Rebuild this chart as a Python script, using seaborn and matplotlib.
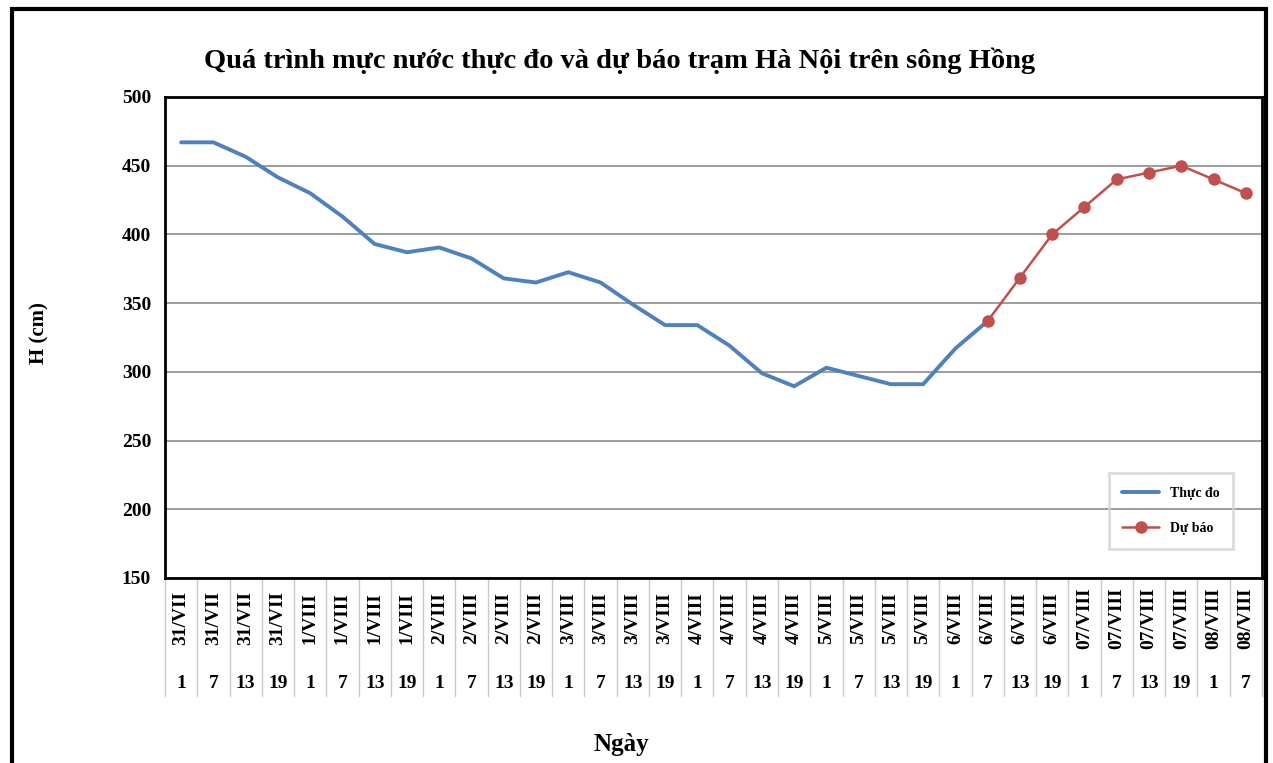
import matplotlib
matplotlib.use("Agg")
import matplotlib.pyplot as plt
import matplotlib.transforms as mtransforms
from matplotlib.patches import Rectangle
import seaborn as sns
import pandas as pd

# Category axis (two levels: day / hour)
day_labels = ["31/VII", "31/VII", "31/VII", "31/VII",
              "1/VIII", "1/VIII", "1/VIII", "1/VIII",
              "2/VIII", "2/VIII", "2/VIII", "2/VIII",
              "3/VIII", "3/VIII", "3/VIII", "3/VIII",
              "4/VIII", "4/VIII", "4/VIII", "4/VIII",
              "5/VIII", "5/VIII", "5/VIII", "5/VIII",
              "6/VIII", "6/VIII", "6/VIII", "6/VIII",
              "07/VIII", "07/VIII", "07/VIII", "07/VIII",
              "08/VIII", "08/VIII"]
hour_labels = ["1", "7", "13", "19", "1", "7", "13", "19",
               "1", "7", "13", "19", "1", "7", "13", "19",
               "1", "7", "13", "19", "1", "7", "13", "19",
               "1", "7", "13", "19", "1", "7", "13", "19",
               "1", "7"]

# Water level (cm)
observed = [467, 467, 456.5, 441.5, 430, 413, 393, 387, 390.5, 382.5,
            368, 365, 372.5, 365, 349, 334, 334, 319, 299, 289.5,
            303, 297, 291, 291, 317, 337]
forecast = [337, 368.5, 400, 420, 440, 445, 450, 440, 430]
forecast_start = 25

obs_df = pd.DataFrame({"x": range(len(observed)), "H": observed})
fc_df = pd.DataFrame({"x": range(forecast_start, forecast_start + len(forecast)), "H": forecast})

sns.set_style("white")
plt.rcParams["font.family"] = ["Liberation Serif", "DejaVu Serif"]
plt.rcParams["font.weight"] = "bold"
plt.rcParams["text.color"] = "black"
plt.rcParams["ytick.color"] = "black"

fig = plt.figure(figsize=(12.73, 7.63), dpi=100)
ax = fig.add_axes([0.1296, 0.2425, 0.8617, 0.6304])

ax.yaxis.grid(True, color="#8c8c8c", linewidth=1.2)
ax.set_axisbelow(True)

sns.lineplot(data=obs_df, x="x", y="H", ax=ax, color="#4F81BD", linewidth=2.8,
             label="Thực đo")
sns.lineplot(data=fc_df, x="x", y="H", ax=ax, color="#C0504D", linewidth=1.8,
             marker="o", markersize=9, markeredgewidth=0, label="Dự báo")

n = len(day_labels)
ax.set_xlim(-0.5, n - 0.5)
ax.set_ylim(150, 500)
ax.set_yticks(range(150, 501, 50))
ax.set_xticks([])
ax.set_xlabel("")
ax.set_ylabel("")
ax.tick_params(axis="y", labelsize=14, pad=10, length=0, labelcolor="black")
for lab in ax.get_yticklabels():
    lab.set_fontweight("bold")

for s in ax.spines.values():
    s.set_color("black")
    s.set_linewidth(2)

# two-level category labels with separators
trans = mtransforms.blended_transform_factory(ax.transData, ax.transAxes)
for i in range(n + 1):
    ax.plot([i - 0.5, i - 0.5], [0, -0.245], transform=trans, color="#c8c8c8",
            linewidth=1, clip_on=False)
for i in range(n):
    ax.text(i, -0.083, day_labels[i], transform=trans, rotation=90,
            ha="center", va="center", fontsize=14, fontweight="bold")
    ax.text(i, -0.219, hour_labels[i], transform=trans,
            ha="center", va="center", fontsize=14, fontweight="bold")

fig.text(0.487, 0.921, "Quá trình mực nước thực đo và dự báo trạm Hà Nội trên sông Hồng",
         ha="center", va="center", fontsize=20.5, fontweight="bold")
fig.text(0.031, 0.563, "H (cm)", rotation=90, ha="center", va="center",
         fontsize=15, fontweight="bold")
fig.text(0.488, 0.024, "Ngày", ha="center", va="center", fontsize=18, fontweight="bold")

leg = ax.legend(loc="center", bbox_to_anchor=(0.917, 0.139), frameon=True,
                fancybox=False, handlelength=2.6, labelspacing=1.6,
                borderpad=1.0, prop={"size": 10, "weight": "bold"})
leg.get_frame().set_facecolor("none")
leg.get_frame().set_edgecolor("#d4d4d4")
leg.get_frame().set_linewidth(2)

# outer chart border
fig.patches.append(Rectangle((12 / 1273, -0.05), 1254 / 1273, 1 - 9 / 763 + 0.05,
                             transform=fig.transFigure, fill=False,
                             edgecolor="black", linewidth=3))

fig.savefig("out.png", dpi=100)
